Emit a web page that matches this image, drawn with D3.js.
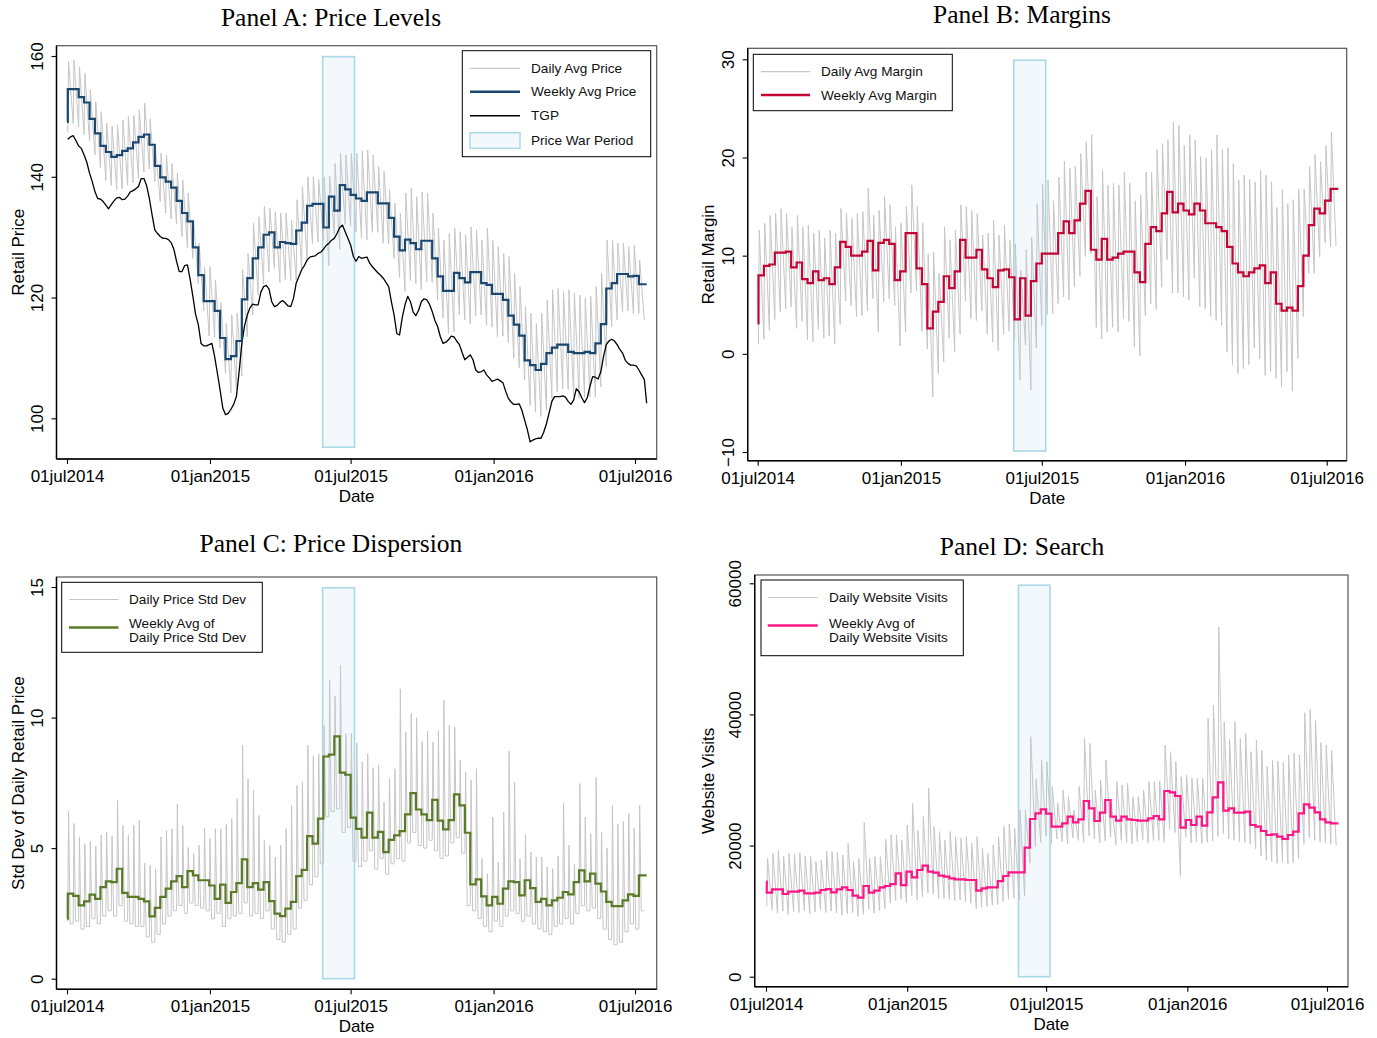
<!DOCTYPE html>
<html>
<head>
<meta charset="utf-8">
<script src="https://cdn.jsdelivr.net/npm/d3@7"></script>
<style>
  body { margin: 0; background: #fff; }
  svg { display: block; }
</style>
</head>
<body>
<svg id="chart" width="1377" height="1038"></svg>
<script>
// ---- Calendar ----
const firstDay = "2014-07-01";      // first observation
const weekStart = "2014-07-02";     // first weekly bucket
const lastDay = "2016-07-16";       // last observation
const priceWar = ["2015-05-26", "2015-07-06"];
const xTickDates = ["2014-07-01", "2015-01-01", "2015-07-01", "2016-01-01", "2016-07-01"];

// ---- Panel A: retail price levels (cents per litre) ----
const priceFirstDay = 149.1;
const priceDailyStart = 147.5;
const priceWeekly = [
  154.5,154.5,153.2,152.3,149.6,147.2,145.1,144.1,143.3,143.6,144.3,144.7,145.7,146.6,147.0,145.3,141.8,139.9,139.2,138.2,
  136.0,134.0,132.6,128.3,123.7,119.4,119.4,117.8,113.3,109.8,110.3,112.8,119.7,123.2,126.5,128.3,130.4,130.8,128.3,129.2,
  129.0,128.9,131.1,132.4,135.2,135.5,135.5,131.6,136.7,134.4,138.6,137.9,137.0,
  136.4,136.0,137.4,137.4,135.6,135.6,133.2,130.1,127.8,129.6,129.0,128.0,129.4,129.4,126.5,123.5,121.1,121.1,124.1,123.2,
  122.5,124.2,124.2,122.4,122.1,120.6,120.6,119.6,117.0,115.5,113.7,109.6,108.8,108.0,109.0,110.8,111.7,112.2,112.2,111.0,
  110.8,110.8,111.0,110.8,112.4,115.6,121.5,122.4,123.9,123.9,123.5,123.6,122.2
];
const priceDailyHigh = [
  159.1,159.3,158.2,157.1,154.4,152.4,150.8,148.9,148.4,148.6,149.4,150.0,150.2,151.1,152.2,149.6,144.4,143.9,143.6,142.2,
  140.6,139.5,137.3,132.8,129.0,125.1,125.1,122.9,119.1,115.7,117.1,117.4,124.6,127.3,132.3,133.4,135.1,134.8,134.2,134.0,
  134.0,132.8,136.2,138.4,140.0,140.0,139.5,140.0,140.1,142.2,143.9,143.6,143.9,
  143.9,144.2,144.4,143.6,141.7,140.9,137.8,135.6,134.0,137.3,138.1,136.7,137.5,137.3,134.0,131.5,129.5,130.6,131.5,130.9,
  130.4,131.7,131.2,129.5,131.5,129.5,128.4,127.3,126.8,124.0,121.8,118.5,117.4,115.7,117.4,119.6,121.3,121.5,121.0,121.3,
  120.7,120.4,119.9,120.2,121.8,124.0,129.5,129.5,129.0,129.0,128.4,128.7,126.2
];
const priceDailyLow = [
  148.8,148.2,147.0,145.9,143.6,141.5,139.4,138.6,137.9,138.0,138.6,139.0,139.7,140.8,141.3,139.2,135.9,134.0,133.0,132.2,
  130.1,128.2,126.5,122.3,117.8,113.6,113.4,111.7,107.4,104.2,104.8,107.0,113.5,117.1,120.4,122.3,124.2,124.8,122.5,123.0,
  122.8,122.9,124.8,126.2,128.9,129.2,129.5,125.3,130.5,128.0,132.1,131.8,130.9,
  129.8,129.5,130.8,130.8,129.0,128.9,126.5,123.3,121.0,122.8,122.3,121.3,122.6,122.5,119.6,116.6,114.1,114.3,117.1,116.3,
  115.6,117.0,117.1,115.4,115.1,113.5,113.6,112.6,110.0,108.4,106.4,102.1,101.0,100.3,101.3,103.3,104.4,104.9,104.8,103.7,
  103.4,103.5,103.6,103.5,105.2,108.6,115.2,116.3,117.6,117.8,117.3,117.4,116.3
];
// Terminal gate price: at each weekly bucket start, at each mid-week, and on the final day
const tgp = [
  146.2,146.8,145.1,143.6,140.6,137.5,136.3,135.3,135.4,136.5,136.2,136.8,137.7,138.4,139.7,136.4,131.2,130.1,129.8,129.1,
  126.0,124.3,125.4,120.2,115.5,112.0,112.2,110.2,104.7,100.6,101.5,103.6,112.4,117.1,118.9,118.8,121.8,121.4,118.5,119.2,
  119.1,118.5,122.4,124.6,126.2,126.8,127.3,128.0,129.0,129.8,131.6,130.9,128.7,126.0,
  126.5,126.7,125.1,124.1,123.2,121.8,117.1,113.8,118.8,119.3,117.0,119.3,119.6,117.7,115.2,112.4,113.0,113.5,112.2,109.7,
  110.5,108.0,107.7,107.2,106.1,106.5,105.9,103.3,102.3,102.4,99.7,96.1,96.6,96.7,99.1,102.8,103.6,103.7,102.8,103.0,
  104.4,102.6,105.3,106.8,107.7,112.2,113.1,112.2,110.8,109.1,108.8,108.0,106.4
];
const tgpMidweek = [
  146.6,146.0,144.7,142.4,139.2,136.4,135.9,134.7,136.0,136.6,136.3,137.5,138.0,139.7,138.5,133.7,130.6,129.8,129.6,128.0,
  124.3,125.3,123.0,117.2,112.4,112.0,112.4,107.5,101.7,100.8,102.3,107.7,115.3,118.3,118.8,120.9,122.0,119.3,118.7,119.5,
  118.6,119.9,123.5,125.3,126.7,126.9,127.5,128.6,129.5,130.6,132.0,129.8,126.8,
  126.8,126.6,125.7,124.6,123.7,122.5,119.3,114.0,116.7,120.2,117.6,117.9,119.8,118.9,116.2,113.5,112.6,113.6,112.8,110.9,
  110.1,109.7,107.6,108.0,106.7,106.3,106.2,104.5,102.7,102.3,101.3,98.1,96.4,96.7,97.7,100.9,103.6,103.6,103.5,102.3,
  104.9,103.4,103.4,106.9,106.5,110.2,112.8,112.8,111.4,109.6,108.8,108.7,107.2
];
const tgpLastDay = 102.5;

// ---- Panel B: retail margins ----
const marginFirstDay = 3.1;
const marginDailyStart = 1.0;
const marginWeekly = [
  8.0,8.95,9.1,10.3,10.3,10.4,8.8,9.3,7.6,7.2,8.4,7.5,7.7,7.1,8.8,11.4,10.9,10.0,10.0,10.4,
  11.5,8.5,11.3,11.6,11.2,7.5,8.4,12.3,12.3,8.7,7.1,2.6,4.3,5.3,7.9,6.7,8.4,11.6,9.8,9.8,
  10.6,8.6,7.7,6.8,8.5,8.6,7.8,3.5,7.7,3.9,7.4,9.2,10.2,
  10.2,10.2,12.3,13.5,12.3,13.6,15.3,16.6,10.6,9.6,11.7,9.6,9.8,10.2,10.4,10.4,8.3,7.3,11.2,12.9,
  12.5,14.3,16.5,14.4,15.3,14.6,14.2,15.3,14.6,13.3,13.3,12.9,12.5,10.9,9.2,8.3,7.9,8.3,8.7,9.0,
  7.2,8.3,5.1,4.4,4.7,4.4,6.9,10.0,13.1,14.8,14.3,15.6,16.8
];
const marginDailyHigh = [
  12.6,13.3,14.1,14.3,14.8,14.3,12.9,14.1,12.9,13.1,12.3,12.6,11.8,12.6,12.3,14.8,14.3,13.8,14.3,14.5,
  16.9,14.1,14.6,16.0,15.2,12.9,13.3,15.0,17.2,15.0,13.3,10.2,10.4,8.2,12.9,11.6,12.6,15.2,15.0,14.6,
  14.3,12.1,12.3,13.6,12.1,13.1,11.6,11.2,8.5,10.6,11.9,15.3,17.3,
  17.7,15.6,18.0,19.6,18.9,19.1,20.4,21.6,22.3,16.0,18.7,17.2,17.4,17.2,18.5,17.4,15.6,16.2,18.5,18.5,
  20.8,21.4,21.8,23.6,23.3,21.2,22.3,21.8,20.1,19.9,20.8,22.3,20.8,21.0,19.4,17.7,18.2,17.8,17.5,18.7,
  18.2,17.5,14.9,16.7,15.3,15.7,16.8,16.8,19.1,20.3,19.6,21.2,22.6
];
const marginDailyLow = [
  1.5,2.4,3.5,4.3,4.6,4.8,2.6,3.3,1.4,1.2,2.5,1.6,1.8,1.0,3.0,5.4,4.9,3.8,3.9,4.4,
  5.6,2.2,5.3,5.6,4.9,0.8,2.2,6.2,6.4,2.3,0.5,-4.4,-2.0,-0.8,1.6,0.2,2.0,5.4,3.6,3.4,
  4.4,2.0,1.2,0.3,2.0,2.3,1.5,-2.7,0.9,-3.7,0.6,2.9,4.0,
  4.1,5.1,5.8,5.5,6.8,7.9,9.9,10.2,2.7,1.5,2.2,2.7,2.2,3.6,3.3,0.7,-0.2,3.9,5.1,4.5,
  6.8,9.6,6.2,6.2,5.8,5.5,7.7,4.8,4.6,3.8,3.4,2.9,0.2,-1.1,-2.0,-1.5,-1.1,0.6,-0.5,-2.2,
  -1.8,-2.5,-3.4,-1.8,-3.8,-0.5,3.8,8.2,8.2,9.9,11.3,10.9,11.0
];

// ---- Panel C: cross-station price dispersion ----
const dispFirstDay = 2.3;
const dispDailyStart = 2.2;
const dispWeekly = [
  3.26,3.17,2.81,2.96,3.22,3.06,3.51,3.73,3.70,4.21,3.29,3.13,3.13,3.06,2.96,2.39,2.71,3.13,3.45,3.73,
  3.93,3.51,4.12,3.96,3.77,3.77,3.57,3.06,3.60,2.90,3.32,3.66,4.57,3.51,3.66,3.41,3.70,2.97,2.49,2.40,
  2.68,2.94,3.93,4.17,5.46,5.17,6.13,8.51,8.58,9.28,7.89,7.81,6.17,
  5.74,5.40,6.36,5.40,5.62,4.85,5.32,5.49,5.65,6.29,7.11,6.48,6.29,6.07,6.85,6.05,5.72,6.07,7.06,6.64,
  5.59,3.61,3.80,3.15,2.81,3.13,2.87,3.45,3.73,3.70,3.19,3.77,3.47,2.94,3.06,2.81,3.00,3.10,3.32,3.23,
  3.70,4.15,3.73,4.02,3.64,3.34,2.94,2.78,2.78,3.00,3.23,3.17,3.96
];
const dispDailyHigh = [
  6.41,5.94,5.43,5.17,5.26,5.08,5.49,5.62,5.46,6.83,5.87,5.49,5.87,6.06,4.43,4.34,4.21,5.43,5.68,5.74,
  6.70,5.87,5.02,4.79,5.11,5.77,5.36,5.74,5.74,5.90,6.13,6.89,8.94,7.66,7.21,6.25,5.30,5.11,4.66,5.11,
  5.74,6.64,7.40,7.53,8.94,8.53,8.60,9.70,11.42,10.81,12.0,9.38,9.40,
  9.02,8.30,8.62,8.08,8.19,6.77,7.66,8.04,11.1,9.45,10.15,10.0,9.09,9.48,9.06,9.51,10.66,9.70,9.64,8.36,
  7.91,7.60,8.04,4.60,4.02,6.19,4.47,6.38,8.71,7.53,4.60,5.51,4.85,4.66,4.66,4.28,4.21,4.70,6.73,5.11,
  4.37,7.47,6.19,5.55,7.70,5.62,4.99,6.64,5.91,6.03,6.32,5.77,6.64
];
const dispDailyLow = [
  2.1,2.2,1.9,2.0,2.3,2.1,2.4,2.6,2.4,2.8,2.2,2.1,2.0,2.0,1.6,1.4,1.7,2.1,2.4,2.6,
  2.8,2.5,2.9,2.8,2.7,2.6,2.3,2.5,2.0,2.3,2.4,2.5,2.9,2.4,2.5,2.3,2.6,1.9,1.5,1.4,
  1.7,1.9,2.7,3.0,3.6,3.9,4.4,6.2,6.4,6.5,5.6,5.8,4.5,
  4.3,4.5,4.9,4.2,4.6,4.0,4.4,4.6,4.5,5.2,5.6,5.1,5.0,5.3,4.9,4.6,4.7,5.2,5.4,4.8,
  2.8,2.6,2.3,2.0,1.8,2.2,2.0,2.4,2.6,2.5,2.2,2.4,2.1,1.9,1.8,1.7,2.0,2.1,2.3,2.1,
  2.5,2.8,2.6,2.7,2.3,1.9,1.5,1.3,1.4,1.8,2.1,1.9,2.6
];

// ---- Panel D: price-comparison website visits ----
const visitsFirstDay = 14490;
const visitsDailyStart = 10800;
const visitsWeekly = [
  12810,13320,13320,12610,12970,12970,13120,12710,12710,12810,13220,13370,12870,13320,13630,13220,12360,12050,13830,12810,
  13120,13630,13830,14130,15760,13980,16020,15150,16270,16930,16020,15870,15410,15250,15000,14850,14850,14750,14750,13120,
  13480,13630,13630,14590,15360,15920,15920,15920,19680,24050,24920,25530,24860,
  22880,22880,23390,24410,23540,24000,26800,25680,23750,25020,26950,24410,23800,24410,24000,23900,23800,23800,24150,24510,
  24000,28320,28120,27560,22730,23900,23140,24410,23040,25070,27360,29650,25320,25680,25020,25020,25170,23140,22880,22220,
  21610,21710,21360,21000,21610,22120,24920,26290,25780,25070,24000,23540,23390
];
const visitsDailyHigh = [
  18050,18810,19220,18410,18810,18700,18900,18410,18410,17540,17800,19170,19070,18900,18560,20340,17540,18050,23490,18050,
  18300,18300,20950,21610,21610,20850,23140,26440,22270,24410,28730,22880,22120,20850,22120,21360,21100,21360,20340,21360,
  19580,18810,20090,21360,22880,23290,22630,25430,25430,36610,30100,33050,32800,
  29000,26440,28480,27460,25430,29000,36360,35600,28480,30000,33050,26440,29750,29240,29500,27460,27460,28480,29750,29750,
  29850,35340,34320,32800,30510,30760,30250,30250,30250,39410,41440,53290,38900,36200,38900,36360,37120,34320,36100,34570,
  32040,33050,32900,32700,33810,34070,33810,40270,40780,39160,35700,35340,34470
];
const visitsDailyLow = [
  10200,9700,10000,9500,9900,9800,10100,9600,9900,10200,9800,10000,9700,9400,9600,9800,9200,9500,10300,9700,
  10100,10400,11200,11600,11800,11300,12400,11700,12200,12800,12600,11900,12000,11800,11600,11700,11500,11200,10400,10600,
  10700,10900,11000,11500,11800,12000,11700,12300,17300,19800,20500,21400,20300,
  21000,20600,20300,21200,20800,20500,21500,21000,20400,20700,21300,20100,20800,20500,20300,20600,20900,20400,20700,20800,
  20500,22500,22000,15300,21300,20400,20600,20300,20500,20700,21400,21800,21000,20800,20600,20500,20200,19500,18400,17800,
  17600,17300,17500,17200,17400,18000,20300,21200,20800,20600,20400,20200,20000
];

// ---- Drawing ----
const DAY = 864e5;
const parse = d3.utcParse("%Y-%m-%d");
const t0 = parse(weekStart);
const wk = (k, d = 0) => new Date(+t0 + (7 * k + d) * DAY);
const fmtDate = d => d3.utcFormat("%d%b%Y")(d).toLowerCase();

const SANS = "'Liberation Sans', Arial, Helvetica, sans-serif";
const SERIF = "'Liberation Serif', 'Times New Roman', serif";
const GRAY = "#c6c6c6";
const BAND_FILL = "#f3f8fc";
const BAND_STROKE = "#a9d8e7";

function weeklyPoints(first, weekly) {
  const pts = [[parse(firstDay), first]];
  weekly.forEach((v, k) => pts.push([wk(k), v]));
  pts.push([parse(lastDay), weekly[weekly.length - 1]]);
  return pts;
}

// Daily series: restoration day peak, then the fall back to the weekly trough
function dailyPoints(start, highs, lows, dropDays) {
  const pts = [[parse(firstDay), start], [wk(0), start]];
  highs.forEach((h, k) => {
    pts.push([wk(k, 1), h]);
    if (dropDays < 6) pts.push([wk(k, 1 + dropDays), lows[k]]);
    pts.push([wk(k + 1), lows[k]]);
  });
  return pts;
}

function tgpPoints() {
  const pts = [];
  tgp.forEach((v, k) => {
    pts.push([wk(k), v]);
    if (k < tgpMidweek.length) pts.push([wk(k, 3.5), tgpMidweek[k]]);
  });
  pts.push([parse(lastDay), tgpLastDay]);
  return pts;
}

const svg = d3.select("#chart");

const panels = [
  {
    title: "Panel A: Price Levels", titleX: 331, titleY: 25.5,
    frame: [56.5, 45.7, 656.7, 459], xr: [67, 635],
    yDomain: [100, 160], yr: [418.3, 56], yTicks: [100, 120, 140, 160],
    ytitle: "Retail Price", ytitleX: 24,
    band: [95.2, 159.9],
    daily: dailyPoints(priceDailyStart, priceDailyHigh, priceDailyLow, 6),
    weekly: weeklyPoints(priceFirstDay, priceWeekly), color: "#1a476f",
    extra: tgpPoints(),
    legend: {
      box: [462.3, 50.7, 650.7, 156.7], lineX: [470, 520], textX: 531,
      rows: [
        { kind: "line", color: GRAY, width: 1.2, y: 68.3, text: ["Daily Avg Price"], ty: [68.3] },
        { kind: "line", color: "#1a476f", width: 2.4, y: 91.7, text: ["Weekly Avg Price"], ty: [91.7] },
        { kind: "line", color: "#000", width: 1.4, y: 115.7, text: ["TGP"], ty: [115.7] },
        { kind: "rect", y: 140.5, text: ["Price War Period"], ty: [140.5] }
      ]
    }
  },
  {
    title: "Panel B: Margins", titleX: 1022, titleY: 22.5,
    frame: [747.7, 48.3, 1346.7, 460.7], xr: [757.7, 1326.7],
    yDomain: [-10, 30], yr: [452, 59.3], yTicks: [-10, 0, 10, 20, 30],
    ytitle: "Retail Margin", ytitleX: 714,
    band: [-9.9, 29.9],
    daily: dailyPoints(marginDailyStart, marginDailyHigh, marginDailyLow, 6),
    weekly: weeklyPoints(marginFirstDay, marginWeekly), color: "#c10534",
    legend: {
      box: [753.3, 54.3, 952.3, 110.7], lineX: [761, 810], textX: 821,
      rows: [
        { kind: "line", color: GRAY, width: 1.2, y: 71.7, text: ["Daily Avg Margin"], ty: [71.7] },
        { kind: "line", color: "#c10534", width: 2.4, y: 95, text: ["Weekly Avg Margin"], ty: [95] }
      ]
    }
  },
  {
    title: "Panel C: Price Dispersion", titleX: 331, titleY: 551.5,
    frame: [56.5, 577, 656.7, 989.3], xr: [67, 635],
    yDomain: [0, 15], yr: [978.7, 587], yTicks: [0, 5, 10, 15],
    ytitle: "Std Dev of Daily Retail Price", ytitleX: 24,
    band: [0, 14.97],
    daily: dailyPoints(dispDailyStart, dispDailyHigh, dispDailyLow, 2),
    weekly: weeklyPoints(dispFirstDay, dispWeekly), color: "#5a7a28",
    legend: {
      box: [61.7, 582.3, 262.3, 652.3], lineX: [69, 118.5], textX: 129,
      rows: [
        { kind: "line", color: GRAY, width: 1.2, y: 599.5, text: ["Daily Price Std Dev"], ty: [599.5] },
        { kind: "line", color: "#5a7a28", width: 2.4, y: 627.5, text: ["Weekly Avg of", "Daily Price Std Dev"], ty: [622.8, 637.3] }
      ]
    }
  },
  {
    title: "Panel D: Search", titleX: 1022, titleY: 554.5,
    frame: [754.7, 575, 1348, 986.7], xr: [766, 1327],
    yDomain: [0, 60000], yr: [976.7, 583.3], yTicks: [0, 20000, 40000, 60000],
    ytitle: "Website Visits", ytitleX: 714,
    band: [0, 59700],
    daily: dailyPoints(visitsDailyStart, visitsDailyHigh, visitsDailyLow, 6),
    weekly: weeklyPoints(visitsFirstDay, visitsWeekly), color: "#ff1585",
    legend: {
      box: [761, 580, 963.3, 655.7], lineX: [767.7, 817.7], textX: 829,
      rows: [
        { kind: "line", color: GRAY, width: 1.2, y: 597.5, text: ["Daily Website Visits"], ty: [597.5] },
        { kind: "line", color: "#ff1585", width: 2.4, y: 625.5, text: ["Weekly Avg of", "Daily Website Visits"], ty: [622.8, 637.3] }
      ]
    }
  }
];

panels.forEach(p => {
  const [fx0, fy0, fx1, fy1] = p.frame;
  const x = d3.scaleUtc().domain([parse(xTickDates[0]), parse(xTickDates[4])]).range(p.xr);
  const y = d3.scaleLinear().domain(p.yDomain).range(p.yr);
  const g = svg.append("g");

  // title
  g.append("text").attr("x", p.titleX).attr("y", p.titleY)
    .attr("text-anchor", "middle").attr("font-family", SERIF).attr("font-size", 25.5)
    .attr("fill", "#000").text(p.title);

  // plot region
  g.append("rect").attr("x", fx0).attr("y", fy0).attr("width", fx1 - fx0).attr("height", fy1 - fy0)
    .attr("fill", "#fff").attr("stroke", "#555").attr("stroke-width", 1.2);

  // price war period
  g.append("rect")
    .attr("x", x(parse(priceWar[0]))).attr("width", x(parse(priceWar[1])) - x(parse(priceWar[0])))
    .attr("y", y(p.band[1])).attr("height", y(p.band[0]) - y(p.band[1]))
    .attr("fill", BAND_FILL).attr("stroke", BAND_STROKE).attr("stroke-width", 1.6);

  const line = d3.line().x(d => x(d[0])).y(d => y(d[1]));

  g.append("path").datum(p.daily).attr("d", line)
    .attr("fill", "none").attr("stroke", GRAY).attr("stroke-width", 1).attr("stroke-linejoin", "round");

  if (p.extra) {
    g.append("path").datum(p.extra).attr("d", line)
      .attr("fill", "none").attr("stroke", "#000").attr("stroke-width", 1.3).attr("stroke-linejoin", "round");
  }

  g.append("path").datum(p.weekly).attr("d", line.curve(d3.curveStepAfter))
    .attr("fill", "none").attr("stroke", p.color).attr("stroke-width", 2.2);

  // axes
  const xa = g.append("g").attr("transform", `translate(0,${fy1})`)
    .call(d3.axisBottom(x).tickValues(xTickDates.map(parse)).tickFormat(fmtDate).tickSize(5).tickPadding(6));
  xa.select(".domain").remove();
  xa.selectAll("text").attr("font-family", SANS).attr("font-size", 17).attr("fill", "#000");
  xa.selectAll("line").attr("stroke", "#000").attr("stroke-width", 1.1);

  const ya = g.append("g").attr("transform", `translate(${fx0},0)`)
    .call(d3.axisLeft(y).tickValues(p.yTicks).tickFormat(d3.format("d")).tickSize(5));
  ya.select(".domain").remove();
  ya.selectAll("line").attr("stroke", "#000").attr("stroke-width", 1.1);
  ya.selectAll("text").attr("x", null).attr("dy", null).attr("y", null)
    .attr("text-anchor", "middle").attr("transform", "translate(-13.5,0) rotate(-90)")
    .attr("font-family", SANS).attr("font-size", 17).attr("fill", "#000");

  // axis lines
  g.append("line").attr("x1", fx0).attr("x2", fx1).attr("y1", fy1).attr("y2", fy1)
    .attr("stroke", "#000").attr("stroke-width", 1.4);
  g.append("line").attr("x1", fx0).attr("x2", fx0).attr("y1", fy0).attr("y2", fy1)
    .attr("stroke", "#000").attr("stroke-width", 1.4);

  // axis titles
  g.append("text").attr("x", (fx0 + fx1) / 2).attr("y", fy1 + 43)
    .attr("text-anchor", "middle").attr("font-family", SANS).attr("font-size", 17).text("Date");
  g.append("text").attr("transform", `translate(${p.ytitleX},${(fy0 + fy1) / 2}) rotate(-90)`)
    .attr("text-anchor", "middle").attr("font-family", SANS).attr("font-size", 17).text(p.ytitle);

  // legend
  const L = p.legend;
  const lg = g.append("g");
  lg.append("rect").attr("x", L.box[0]).attr("y", L.box[1])
    .attr("width", L.box[2] - L.box[0]).attr("height", L.box[3] - L.box[1])
    .attr("fill", "#fff").attr("stroke", "#000").attr("stroke-width", 1);
  L.rows.forEach(r => {
    if (r.kind === "line") {
      lg.append("line").attr("x1", L.lineX[0]).attr("x2", L.lineX[1]).attr("y1", r.y).attr("y2", r.y)
        .attr("stroke", r.color).attr("stroke-width", r.width);
    } else {
      lg.append("rect").attr("x", L.lineX[0]).attr("y", r.y - 7.8)
        .attr("width", L.lineX[1] - L.lineX[0]).attr("height", 15.6)
        .attr("fill", BAND_FILL).attr("stroke", BAND_STROKE).attr("stroke-width", 1.4);
    }
    r.text.forEach((t, i) => {
      lg.append("text").attr("x", L.textX).attr("y", r.ty[i]).attr("dy", "0.35em")
        .attr("font-family", SANS).attr("font-size", 13.6).attr("fill", "#111").text(t);
    });
  });
});
</script>
</body>
</html>
